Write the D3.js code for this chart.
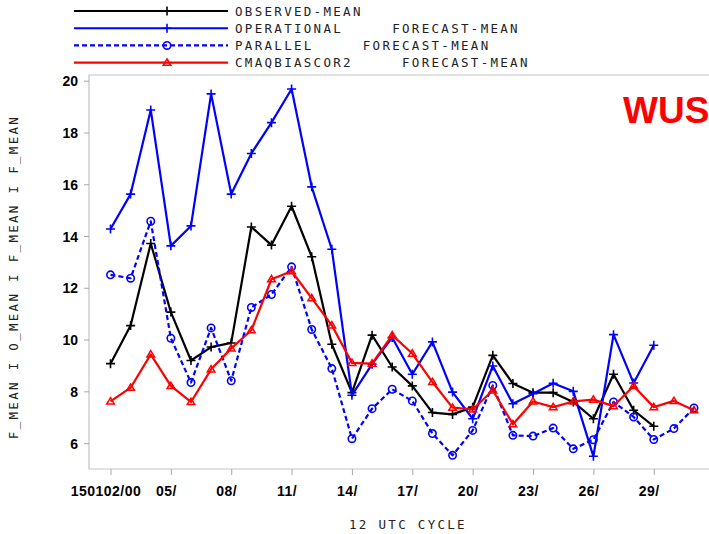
<!DOCTYPE html>
<html>
<head>
<meta charset="utf-8">
<script src="https://cdn.jsdelivr.net/npm/d3@7"></script>
<style>
  html, body { margin: 0; padding: 0; background: #fff; }
  svg { display: block; }
  .mono { font-family: "DejaVu Sans Mono", "Liberation Mono", monospace; font-size: 12.5px; letter-spacing: 2.3px; fill: #222; white-space: pre; }
  .tick-label { font-family: "Liberation Sans", Arial, sans-serif; font-size: 14px; font-weight: bold; fill: #000; }
</style>
</head>
<body>
<svg id="chart" width="709" height="534"></svg>
<script>
// 12 UTC cycles, January 2015 (day of month)
const cycles = ["02","03","04","05","06","07","08","09","10","11","12","13","14","15","16",
                "17","18","19","20","21","22","23","24","25","26","27","28","29","30","31"];

const observedMean = [9.07, 10.54, 13.71, 11.06, 9.19, 9.71, 9.87, 14.35, 13.65, 15.15,
                      13.2, 9.82, 7.95, 10.17, 8.94, 8.21, 7.18, 7.11, 7.39, 9.39,
                      8.30, 7.95, 7.95, 7.59, 6.94, 8.66, 7.27, 6.65, null, null];
const operationalMean = [14.27, 15.62, 18.87, 13.62, 14.39, 19.49, 15.62, 17.19, 18.38, 19.68,
                         15.9, 13.49, 7.85, 9.05, 10.08, 8.66, 9.91, 7.97, 6.94, 8.98,
                         7.52, 7.91, 8.31, 8.0, 5.49, 10.19, 8.32, 9.78, null, null];
const parallelMean = [12.50, 12.37, 14.57, 10.05, 8.34, 10.45, 8.41, 11.24, 11.74, 12.81,
                      10.39, 8.88, 6.17, 7.33, 8.08, 7.63, 6.37, 5.53, 6.49, 8.23,
                      6.30, 6.27, 6.58, 5.78, 6.13, 7.59, 7.01, 6.14, 6.56, 7.36];
const cmaqBiasCorMean = [7.61, 8.14, 9.43, 8.21, 7.59, 8.85, 9.66, 10.36, 12.33, 12.64,
                         11.6, 10.55, 9.1, 9.07, 10.17, 9.46, 8.36, 7.37, 7.30, 8.04,
                         6.73, 7.61, 7.39, 7.61, 7.68, 7.43, 8.21, 7.39, 7.63, 7.27];

const xTickCycles = ["02","05","08","11","14","17","20","23","26","29"];
const xTickLabels = ["150102/00","05/","08/","11/","14/","17/","20/","23/","26/","29/"];
const yTicks = [6, 8, 10, 12, 14, 16, 18, 20];

const legendLabels = ["OBSERVED-MEAN",
                      "OPERATIONAL     FORECAST-MEAN",
                      "PARALLEL     FORECAST-MEAN",
                      "CMAQBIASCOR2     FORECAST-MEAN"];

const series = [
  { values: observedMean,    color: "#000000", dash: null,  marker: "plus" },
  { values: operationalMean, color: "#0000ff", dash: null,  marker: "plus" },
  { values: parallelMean,    color: "#0000ff", dash: "5,3", marker: "circle" },
  { values: cmaqBiasCorMean, color: "#ff0000", dash: null,  marker: "triangle" }
];

const svg = d3.select("#chart");
const frame = { left: 89, top: 75, right: 709, bottom: 469 };

const x = d3.scalePoint().domain(cycles).range([110.5, 694]);
const y = d3.scaleLinear().domain([5, 20.22]).range([frame.bottom, frame.top]);

// plot frame
svg.append("path")
  .attr("d", `M${frame.right},${frame.top}H${frame.left}V${frame.bottom}H${frame.right}`)
  .attr("fill", "none").attr("stroke", "#c4c4c4").attr("stroke-width", 1.2);

// y axis
const yAxis = svg.append("g").attr("transform", `translate(${frame.left},0)`)
  .call(d3.axisLeft(y).tickValues(yTicks).tickSize(5).tickPadding(6));
yAxis.select(".domain").remove();
yAxis.selectAll(".tick line").attr("stroke", "#aaa");
yAxis.selectAll(".tick text").attr("class", "tick-label").attr("dy", "0.36em");

// x axis
const xAxis = svg.append("g").attr("transform", `translate(0,${frame.bottom})`)
  .call(d3.axisBottom(x).tickValues(xTickCycles)
        .tickFormat((d, i) => xTickLabels[i]).tickSize(6).tickPadding(8));
xAxis.select(".domain").remove();
xAxis.selectAll(".tick line").attr("stroke", "#aaa");
xAxis.selectAll(".tick text").attr("class", "tick-label")
  .attr("dx", "-5").attr("dy", "0.9em").style("letter-spacing", "0.5px");

// axis titles
svg.append("text").attr("class", "mono")
  .attr("text-anchor", "middle")
  .attr("transform", "translate(18,277) rotate(-90)")
  .text("F_MEAN I O_MEAN I F_MEAN I F_MEAN");
svg.append("text").attr("class", "mono")
  .attr("x", 408).attr("y", 529).attr("text-anchor", "middle")
  .text("12 UTC CYCLE");

// region label
svg.append("text")
  .attr("x", 623).attr("y", 122.5)
  .attr("font-family", "Liberation Sans, Arial, sans-serif")
  .attr("font-weight", "bold").attr("font-size", 37)
  .attr("fill", "#ff0000").text("WUS");

function drawMarker(sel, kind, color) {
  if (kind === "plus") {
    sel.append("path").attr("d", "M-4.5,0H4.5M0,-4.5V4.5")
      .attr("stroke", color).attr("stroke-width", 1.6).attr("fill", "none");
  } else if (kind === "circle") {
    sel.append("circle").attr("r", 3.7)
      .attr("stroke", color).attr("stroke-width", 1.6).attr("fill", "none");
  } else {
    sel.append("path").attr("d", "M0,-3.8L3.8,2.6H-3.8Z")
      .attr("stroke", color).attr("stroke-width", 1.5).attr("fill", "none");
  }
}

const line = d3.line()
  .defined(d => d.v != null)
  .x(d => x(d.c))
  .y(d => y(d.v));

series.forEach(s => {
  const pts = cycles.map((c, i) => ({ c, v: s.values[i] }));
  svg.append("path").datum(pts)
    .attr("d", line)
    .attr("fill", "none")
    .attr("stroke", s.color)
    .attr("stroke-width", 2.2)
    .attr("stroke-linejoin", "round")
    .attr("stroke-dasharray", s.dash);
  svg.append("g").selectAll("g")
    .data(pts.filter(d => d.v != null))
    .join("g")
    .attr("transform", d => `translate(${x(d.c)},${y(d.v)})`)
    .each(function () { drawMarker(d3.select(this), s.marker, s.color); });
});

// legend
const legendY = d3.scalePoint().domain(d3.range(series.length)).range([11, 62.7]);
series.forEach((s, i) => {
  const g = svg.append("g").attr("transform", `translate(0,${legendY(i)})`);
  g.append("line").attr("x1", 74).attr("x2", 228)
    .attr("stroke", s.color).attr("stroke-width", 2.2)
    .attr("stroke-dasharray", s.dash);
  drawMarker(g.append("g").attr("transform", "translate(167,0)"), s.marker, s.color);
  g.append("text").attr("class", "mono")
    .attr("x", 235).attr("y", 4.6)
    .text(legendLabels[i]);
});
</script>
</body>
</html>
